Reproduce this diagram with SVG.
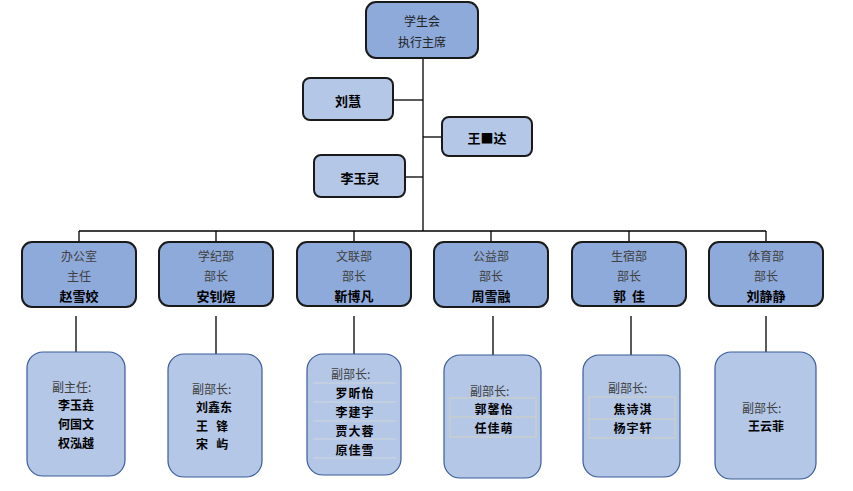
<svg xmlns="http://www.w3.org/2000/svg" width="853" height="491" viewBox="0 0 853 491">
<style>
text{font-family:"Noto Sans CJK SC","Liberation Sans",sans-serif;font-size:12px;fill:#222;}
.c{text-anchor:middle;dominant-baseline:central;}
.l{dominant-baseline:central;}
.b{font-weight:bold;fill:#000;font-size:13px;}
.n{font-weight:bold;fill:#000;}
.g{fill:#404040;}
.main{fill:#8EAADB;stroke:#1a1a1a;stroke-width:2;}
.side{fill:#B4C7E7;stroke:#1a1a1a;stroke-width:2;}
.dept{fill:#8EAADB;stroke:#1a1a1a;stroke-width:2;}
.sub{fill:#B4C7E7;stroke:#3A5C9A;stroke-width:1.2;}
.sep{stroke:#D9D9D9;stroke-width:0.8;fill:none;}
.tb{stroke:#D9D2B8;stroke-width:0.8;fill:none;}
.conn line,.conn polyline{stroke:#000;stroke-width:1.3;fill:none;}
</style>
<g class="conn" id="connectors">
<line x1="423" y1="58" x2="423" y2="231"/>
<line x1="393" y1="100" x2="423" y2="100"/>
<line x1="423" y1="137" x2="442" y2="137"/>
<line x1="405" y1="177" x2="423" y2="177"/>
<line x1="79" y1="231" x2="766" y2="231"/>
<line x1="79" y1="231" x2="79" y2="242"/>
<line x1="216" y1="231" x2="216" y2="242"/>
<line x1="354" y1="231" x2="354" y2="242"/>
<line x1="491" y1="231" x2="491" y2="242"/>
<line x1="629" y1="231" x2="629" y2="242"/>
<line x1="766" y1="231" x2="766" y2="242"/>
<line x1="76" y1="316" x2="76" y2="352"/>
<line x1="216" y1="316" x2="216" y2="354"/>
<line x1="354" y1="316" x2="354" y2="354"/>
<line x1="493" y1="316" x2="493" y2="355"/>
<line x1="631" y1="316" x2="631" y2="355"/>
<line x1="766" y1="316" x2="766" y2="352"/>
</g>
<g id="top">
<rect class="main" x="366" y="2" width="112" height="56" rx="10"/>
<text class="c" x="422" y="20">学生会</text>
<text class="c" x="422" y="41">执行主席</text>
</g>
<g id="liuhui">
<rect class="side" x="303" y="78" width="90" height="42" rx="7"/>
<text class="c b" x="348" y="100">刘慧</text>
</g>
<g id="wang">
<rect class="side" x="442" y="117" width="90" height="39" rx="7"/>
<text class="c b" x="487" y="137">王■达</text>
</g>
<g id="liyuling">
<rect class="side" x="314" y="155" width="91" height="42" rx="7"/>
<text class="c b" x="360" y="177">李玉灵</text>
</g>
<g id="dept1">
<rect class="dept" x="22" y="242" width="114" height="65" rx="10"/>
<text class="c g" x="79" y="255">办公室</text>
<text class="c g" x="79" y="275">主任</text>
<text class="c b" x="79" y="295">赵雪姣</text>
</g>
<g id="dept2">
<rect class="dept" x="159" y="242" width="114" height="64" rx="10"/>
<text class="c g" x="216" y="255">学纪部</text>
<text class="c g" x="216" y="275">部长</text>
<text class="c b" x="216" y="295">安钊煜</text>
</g>
<g id="dept3">
<rect class="dept" x="297" y="242" width="114" height="64" rx="10"/>
<text class="c g" x="354" y="255">文联部</text>
<text class="c g" x="354" y="275">部长</text>
<text class="c b" x="354" y="295">靳博凡</text>
</g>
<g id="dept4">
<rect class="dept" x="434" y="242" width="114" height="65" rx="10"/>
<text class="c g" x="491" y="255">公益部</text>
<text class="c g" x="491" y="275">部长</text>
<text class="c b" x="491" y="295">周雪融</text>
</g>
<g id="dept5">
<rect class="dept" x="572" y="242" width="114" height="64" rx="10"/>
<text class="c g" x="629" y="255">生宿部</text>
<text class="c g" x="629" y="275">部长</text>
<text class="c b" x="629" y="295" xml:space="preserve">郭  佳</text>
</g>
<g id="dept6">
<rect class="dept" x="709" y="242" width="114" height="64" rx="10"/>
<text class="c g" x="766" y="255">体育部</text>
<text class="c g" x="766" y="275">部长</text>
<text class="c b" x="766" y="295">刘静静</text>
</g>
<g id="sub1">
<rect class="sub" x="27" y="352" width="98" height="124" rx="16"/>
<text class="l g" x="52" y="386">副主任:</text>
<text class="c n" x="76" y="404">李玉垚</text>
<text class="c n" x="76" y="423">何国文</text>
<text class="c n" x="76" y="442">权泓越</text>
</g>
<g id="sub2">
<rect class="sub" x="168" y="354" width="94" height="123" rx="16"/>
<text class="l g" x="192" y="388">副部长:</text>
<text class="l n" x="196" y="406">刘鑫东</text>
<text class="l n" x="196" y="425" xml:space="preserve">王   锋</text>
<text class="l n" x="196" y="443" xml:space="preserve">宋   屿</text>
</g>
<g id="sub3">
<rect class="sub" x="307" y="354" width="94" height="121" rx="16"/>
<line class="sep" x1="313" y1="383" x2="396" y2="383"/>
<line class="sep" x1="313" y1="402" x2="396" y2="402"/>
<line class="sep" x1="313" y1="421" x2="396" y2="421"/>
<line class="sep" x1="313" y1="439" x2="396" y2="439"/>
<line class="sep" x1="313" y1="458" x2="396" y2="458"/>
<text class="l g" x="331" y="373">副部长:</text>
<text class="c n" x="355" y="392" letter-spacing="1">罗昕怡</text>
<text class="c n" x="355" y="411" letter-spacing="1">李建宇</text>
<text class="c n" x="355" y="430" letter-spacing="1">贾大蓉</text>
<text class="c n" x="355" y="449" letter-spacing="1">原佳雪</text>
</g>
<g id="sub4">
<rect class="sub" x="444" y="355" width="97" height="123" rx="16"/>
<text class="l g" x="470" y="390">副部长:</text>
<rect class="tb" x="450" y="398" width="86" height="39"/>
<line class="tb" x1="450" y1="417" x2="536" y2="417"/>
<text class="c n" x="494" y="408" letter-spacing="1">郭馨怡</text>
<text class="c n" x="494" y="427" letter-spacing="1">任佳萌</text>
</g>
<g id="sub5">
<rect class="sub" x="583" y="355" width="97" height="122" rx="16"/>
<text class="l g" x="608" y="387">副部长:</text>
<rect class="tb" x="589" y="397" width="86" height="41"/>
<line class="tb" x1="589" y1="419" x2="675" y2="419"/>
<text class="c n" x="633" y="408" letter-spacing="1">焦诗淇</text>
<text class="c n" x="633" y="427" letter-spacing="1">杨宇轩</text>
</g>
<g id="sub6">
<rect class="sub" x="715" y="352" width="101" height="127" rx="16"/>
<text class="l g" x="742" y="407">副部长:</text>
<text class="c n" x="766" y="425">王云菲</text>
</g>
</svg>
